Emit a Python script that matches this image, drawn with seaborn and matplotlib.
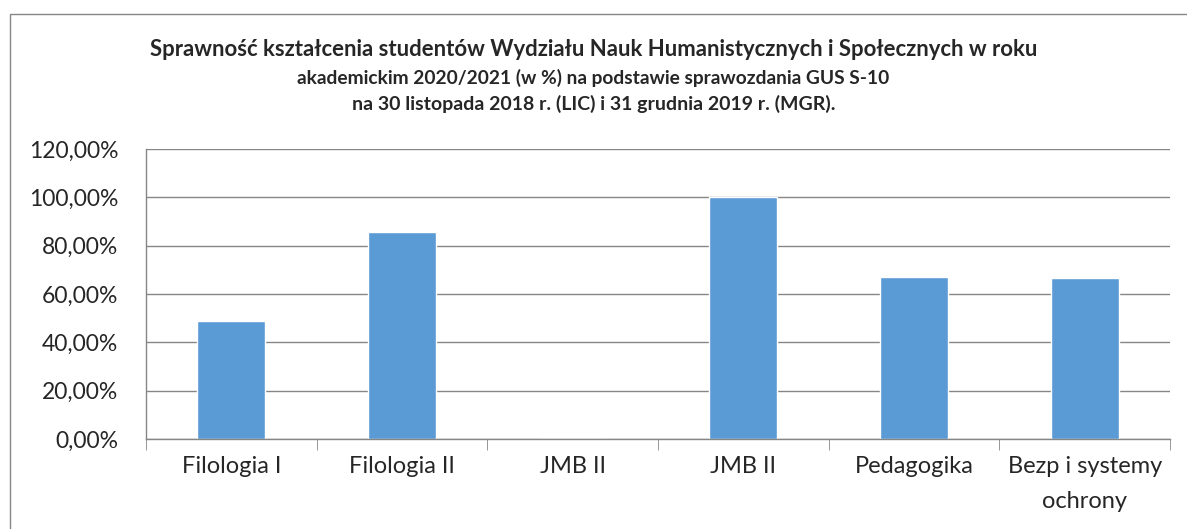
import numpy as np
import pandas as pd
import matplotlib
matplotlib.use('Agg')
import matplotlib.pyplot as plt
import seaborn as sns
from matplotlib.ticker import FixedLocator

kierunki = ['Filologia I', 'Filologia II', 'JMB II', 'JMB II', 'Pedagogika', 'Bezp i systemy\nochrony']
sprawnosc = [48.9, 85.6, 0.0, 100.0, 67.1, 66.5]
y_ticks = [0, 20, 40, 60, 80, 100, 120]

df = pd.DataFrame({'poz': [str(i) for i in range(len(kierunki))], 'proc': sprawnosc})

sns.set_style('white')
plt.rcParams['font.family'] = ['Lato', 'DejaVu Sans']

fig = plt.figure(figsize=(11.87, 5.29), dpi=100)
ax = fig.add_axes([0.123, 0.170, 0.8627, 0.5483])

sns.barplot(x='poz', y='proc', data=df, color='#5B9BD5', width=0.4, saturation=1, ax=ax)

ax.set_ylim(0, 120)
ax.set_xlim(-0.5, len(kierunki) - 0.5)
ax.set_yticks(y_ticks)
ax.yaxis.set_major_formatter(plt.FuncFormatter(lambda v, p: f'{v:.2f}%'.replace('.', ',')))
ax.set_xticks(range(len(kierunki)))
ax.set_xticklabels(kierunki, fontsize=17, linespacing=1.85, va='top')
ax.tick_params(axis='y', labelsize=16.5, length=5, color='#868686', pad=15)
ax.tick_params(axis='x', length=0, pad=12)
ax.xaxis.set_minor_locator(FixedLocator(np.arange(-0.5, len(kierunki), 1)))
ax.tick_params(axis='x', which='minor', length=8, color='#868686', bottom=True)
ax.set_xlabel('')
ax.set_ylabel('')

ax.grid(axis='y', color='#868686', linewidth=1)
ax.set_axisbelow(True)
for s in ['top', 'right']:
    ax.spines[s].set_visible(False)
for s in ['left', 'bottom']:
    ax.spines[s].set_color('#868686')
    ax.spines[s].set_linewidth(1)

fig.text(0.5, 1 - 50 / 529, 'Sprawność kształcenia studentów Wydziału Nauk Humanistycznych i Społecznych w roku',
         ha='center', va='center', fontsize=15.9, fontweight='bold')
fig.text(0.5, 1 - 78 / 529, 'akademickim 2020/2021 (w %) na podstawie sprawozdania GUS S-10',
         ha='center', va='center', fontsize=13.8, fontweight='bold')
fig.text(0.5, 1 - 104 / 529, 'na 30 listopada 2018 r. (LIC) i 31 grudnia 2019 r. (MGR).',
         ha='center', va='center', fontsize=14, fontweight='bold')

fig.patches.append(plt.Rectangle((10 / 1187, -0.05), 1.2, 1 - 14 / 529 + 0.05, transform=fig.transFigure,
                                 fill=False, edgecolor='#868686', linewidth=1))

fig.savefig('out.png', dpi=100)
